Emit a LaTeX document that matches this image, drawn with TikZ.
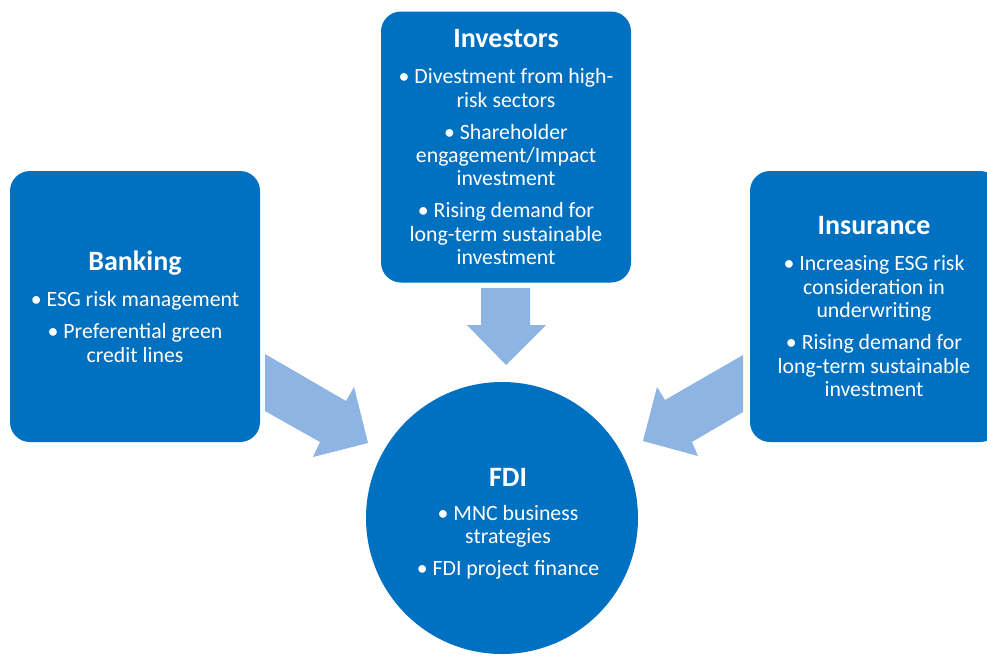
\documentclass[tikz,border=0pt]{standalone}
\usepackage{fontspec}
\setmainfont{Carlito}
\definecolor{boxblue}{HTML}{0070C0}
\definecolor{arrowblue}{HTML}{8EB4E3}
\newcommand{\ttlfont}{\fontsize{28}{30}\selectfont\bfseries}
\begin{document}
\begin{tikzpicture}[x=1pt,y=-1pt,
  panel/.style={fill=boxblue, draw=none, rounded corners=20pt, minimum width=250pt, minimum height=271pt, inner sep=0pt},
  hub/.style={circle, fill=boxblue, draw=none, minimum size=272pt, inner sep=0pt},
  label/.style={text=white, align=center, font=\fontsize{21.8}{23.4}\selectfont, inner sep=0pt},
  blockarrow/.style={fill=arrowblue, draw=none}]
\useasboundingbox (0,0) rectangle (987,659);
\clip (0,0) rectangle (987,659);
\fill[white] (0,0) rectangle (987,659);

% boxes
\node[panel] (inv) at (506,147) {};
\node[panel] (bank) at (135,306.5) {};
\node[panel] (ins) at (875,306.5) {};
\node[hub] (fdi) at (502,518) {};

% texts
\node[label] (invt) at (506,147) {{\ttlfont Investors}\\[13pt]
  • Divestment from high-\\risk sectors\\[8.5pt]
  • Shareholder\\engagement/Impact\\investment\\[8.5pt]
  • Rising demand for\\long-term sustainable\\investment};
\node[label] (bankt) at (135,306.5) {{\ttlfont Banking}\\[13pt]
  • ESG risk management\\[8.5pt]
  • Preferential green\\credit lines};
\node[label] (inst) at (874,306.5) {{\ttlfont Insurance}\\[13pt]
  • Increasing ESG risk\\consideration in\\underwriting\\[8.5pt]
  • Rising demand for\\long-term sustainable\\investment};
\node[label] (fdit) at (508,524) {{\ttlfont FDI}\\[10pt]
  • MNC business\\strategies\\[8.5pt]
  • FDI project finance};

% block arrows
\fill[blockarrow] (481,288) -- (530,288) -- (530,325) -- (546,325) -- (506,365) -- (467,325) -- (481,325) -- cycle;
\fill[blockarrow] (265,354) -- (346,401) -- (354,387) -- (368,443) -- (313,457) -- (320,442) -- (265,411) -- cycle;
\fill[blockarrow] (743,355) -- (665,400) -- (657,387) -- (643,441) -- (698,456) -- (692,442) -- (743,412) -- cycle;
\end{tikzpicture}
\end{document}
